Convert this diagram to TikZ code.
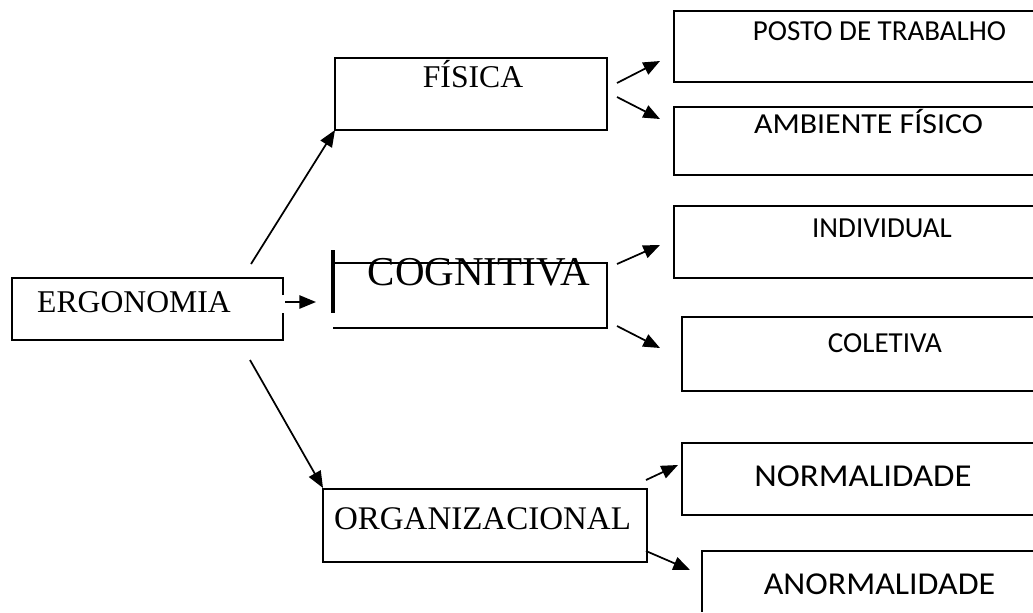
\documentclass[tikz,border=0pt]{standalone}
\usepackage{fontspec}
\setmainfont{Liberation Serif}
\newfontfamily\calib{Carlito}
\usetikzlibrary{arrows.meta,fit,calc}
\begin{document}
\begin{tikzpicture}[x=0.75pt,y=-0.75pt,
  ln/.style={line width=1.3pt},
  arr/.style={line width=1.3pt,-{Triangle[length=12.5pt,width=10pt]}},
  boxn/.style={inner sep=0pt, outer sep=0pt},
  tm/.style={font=\fontsize{23.75}{28}\selectfont, anchor=base, inner sep=0pt},
  cb/.style={font=\calib\fontsize{21.75}{26}\selectfont, anchor=base, inner sep=0pt}]
\useasboundingbox (0,0) rectangle (1033,612);
\fill[white] (0,0) rectangle (1033,612);

% main boxes
\node[boxn, fit={(12,278) (283,340)}] (erg) {};
\draw[ln] ($(erg.north east)+(0,17)$) -- (erg.north east) -- (erg.north west) -- (erg.south west) -- (erg.south east) -- ($(erg.south east)+(0,-27)$);

\node[boxn, draw, ln, fit={(335,58) (607,130)}] (fis) {};

\node[boxn, fit={(333,263) (607,328)}] (cog) {};
\draw[ln] (cog.north west) -- (cog.north east) -- (cog.south east) -- (cog.south west);
\draw[line width=3pt] ($(cog.north west)+(0,-13)$) -- ($(cog.north west)+(0,50)$);

\node[boxn, draw, ln, fit={(323,489) (647,562)}] (org) {};

% right boxes (open on the right)
\node[boxn, fit={(674,11) (1033,82)}] (pos) {};
\node[boxn, fit={(674,107) (1033,175)}] (amb) {};
\node[boxn, fit={(674,206) (1033,278)}] (ind) {};
\node[boxn, fit={(682,317) (1033,391)}] (col) {};
\node[boxn, fit={(682,443) (1033,515)}] (nor) {};
\node[boxn, fit={(702,551) (1033,612)}] (ano) {};
\foreach \b in {pos,amb,ind,col,nor}{
  \draw[ln] (\b.north east) -- (\b.north west) -- (\b.south west) -- (\b.south east);
}
\draw[ln] (ano.north east) -- (ano.north west) -- (ano.south west);

% texts
\node[tm] (ergT) at (134,312) {ERGONOMIA};
\node[tm] (fisT) at (473,87) {FÍSICA};
\node[tm, font=\fontsize{30.75}{36}\selectfont] (cogT) at (479,285) {COGNITIVA};
\node[tm, font=\fontsize{24.75}{30}\selectfont] (orgT) at (482.5,529) {ORGANIZACIONAL};
\node[cb] (posT) at (879.5,40) {POSTO DE TRABALHO};
\node[cb] (ambT) at (868.5,133) {\scalebox{1.1}[1]{AMBIENTE FÍSICO}};
\node[cb] (indT) at (882,237) {INDIVIDUAL};
\node[cb] (colT) at (885,352) {COLETIVA};
\node[cb] (norT) at (863,486) {\scalebox{1.2}[1.1]{NORMALIDADE}};
\node[cb] (anoT) at (879.5,594) {\scalebox{1.17}[1.1]{ANORMALIDADE}};

% connector end points
\coordinate (e1) at (251,264); \coordinate (f1) at (335,130);
\coordinate (e2) at (285,302); \coordinate (c2) at (316,302);
\coordinate (e3) at (250,360); \coordinate (o3) at (323,488);
\coordinate (f4) at (617,83);  \coordinate (p4) at (660,61);
\coordinate (f5) at (617,97);  \coordinate (a5) at (660,119);
\coordinate (c6) at (617,264); \coordinate (i6) at (660,245);
\coordinate (c7) at (617,326); \coordinate (l7) at (660,348);
\coordinate (o8) at (646,480); \coordinate (n8) at (678,465);
\coordinate (o9) at (646,551); \coordinate (a9) at (690,570);

\draw[arr] (e1) -- (f1);
\draw[arr] (e2) -- (c2);
\draw[arr] (e3) -- (o3);
\draw[arr] (f4) -- (p4);
\draw[arr] (f5) -- (a5);
\draw[arr] (c6) -- (i6);
\draw[arr] (c7) -- (l7);
\draw[arr] (o8) -- (n8);
\draw[arr] (o9) -- (a9);
\end{tikzpicture}
\end{document}
